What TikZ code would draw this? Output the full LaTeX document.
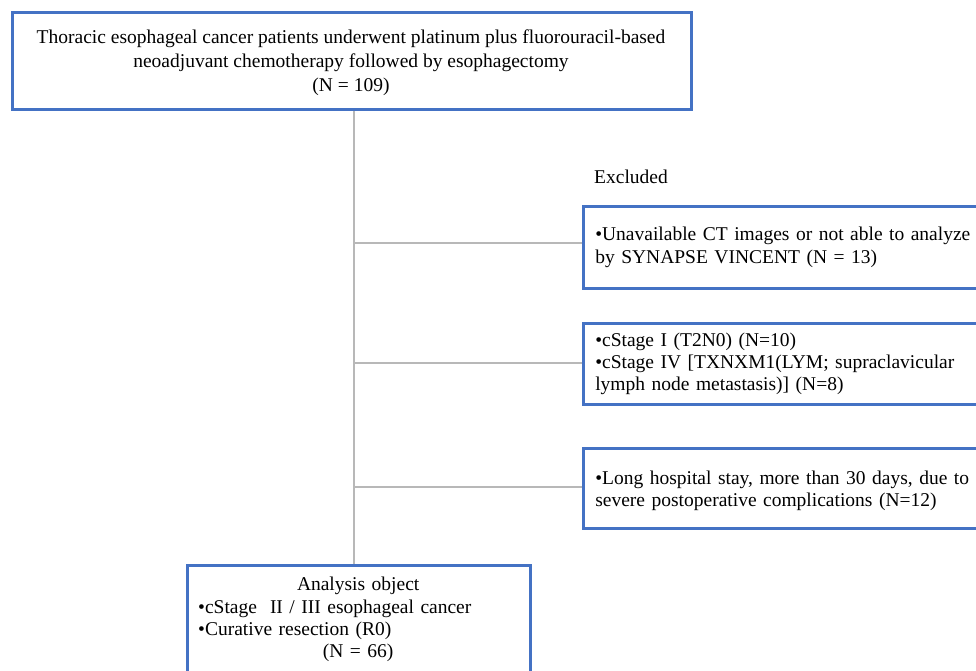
\documentclass[tikz,border=0pt]{standalone}
\usepackage{fontspec}
\setmainfont{Liberation Serif}
\definecolor{boxblue}{HTML}{4472C4}
\definecolor{linegray}{HTML}{B8B8B8}
\tikzset{
  bluebox/.style={draw=boxblue, line width=2.6pt, fill=white},
  txt/.style={font=\fontsize{19.5}{22.4}\selectfont},
  conn/.style={draw=linegray, line width=1.7pt},
  exbox/.style={bluebox, txt, anchor=north west, minimum width=420pt, text width=396pt, inner xsep=12pt, inner ysep=0pt, align=left}
}
\begin{document}
\begin{tikzpicture}[x=1pt,y=-1pt]
\useasboundingbox (0,0) rectangle (976,671);
\clip (0,0) rectangle (976,671);
\fill[white] (0,0) rectangle (976,671);
% spine coordinates
\coordinate (s0) at (354,110);
\coordinate (s1) at (354,564);
\draw[conn] (s0) -- (s1);
% top box
\node[bluebox, minimum width=679pt, minimum height=97pt, anchor=north west, inner sep=0pt] (top) at (11,11) {};
\node[txt, font=\fontsize{19.5}{24}\selectfont, align=center, inner sep=0pt] (toptext) at (351,63)
  {Thoracic esophageal cancer patients underwent platinum plus fluorouracil-based\\
   neoadjuvant chemotherapy followed by esophagectomy\\
   (N = 109)};
% excluded label
\node[txt, anchor=west, inner sep=0pt] (exc) at (594,177) {Excluded};
% exclusion boxes
\node[exbox, minimum height=82pt] (b1) at (582,205)
  {•Unavailable CT images or not able to analyze\\by SYNAPSE VINCENT (N = 13)};
\node[exbox, minimum height=81pt] (b2) at (582,322)
  {•cStage I (T2N0) (N=10)\\•cStage IV [TXNXM1(LYM; supraclavicular\\lymph node metastasis)] (N=8)};
\node[exbox, minimum height=80pt] (b3) at (582,447)
  {\rule{0pt}{18pt}•Long hospital stay, more than 30 days, due to\\severe postoperative complications (N=12)};
\draw[conn] (s0 |- 0,243) -- (b1.west |- 0,243);
\draw[conn] (s0 |- 0,363) -- (b2.west |- 0,363);
\draw[conn] (s0 |- 0,487) -- (b3.west |- 0,487);
% bottom box
\node[bluebox, anchor=north west, minimum width=343pt, minimum height=130pt, inner sep=0pt] (obj) at (186,564) {};
\node[txt, anchor=north west, text width=320pt, inner sep=0pt, align=left] (objtext) at (198,577)
  {\makebox[\linewidth][c]{Analysis object}\\
   •cStage\ \ II / III esophageal cancer\\
   •Curative resection (R0)\\
   \makebox[\linewidth][c]{(N = 66)}};
\end{tikzpicture}
\end{document}
